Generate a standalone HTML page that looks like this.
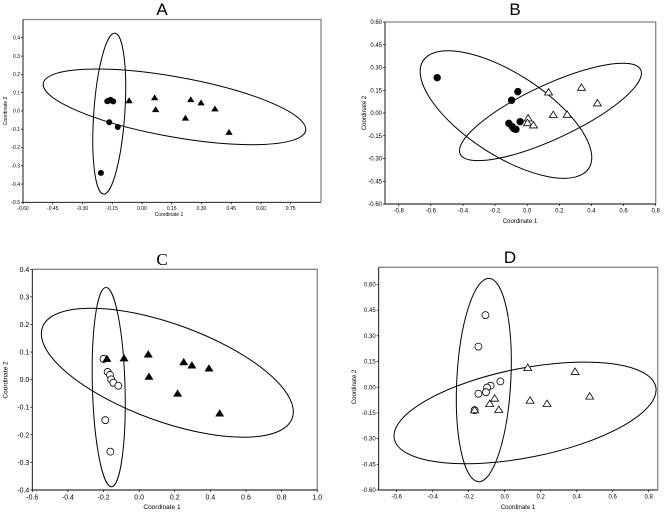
<!DOCTYPE html>
<html><head><meta charset="utf-8"><style>
html,body{margin:0;padding:0;background:#fff;}
svg{display:block;font-family:"Liberation Sans",Arial,sans-serif;}
</style></head><body>
<svg id="fig" width="669" height="514" viewBox="0 0 669 514" xmlns="http://www.w3.org/2000/svg"></svg>
<script>
// ---- Panel A data ----
const aCircX=[-0.175,-0.165,-0.158,-0.145,-0.165,-0.122,-0.207];
const aCircY=[0.053,0.057,0.060,0.052,-0.062,-0.088,-0.339];
const aTriX=[-0.065,0.064,0.069,0.219,0.246,0.298,0.368,0.439];
const aTriY=[0.055,0.071,0.006,-0.040,0.061,0.043,0.010,-0.118];
const aXTicks=[-0.60,-0.45,-0.30,-0.15,0.00,0.15,0.30,0.45,0.60,0.75];
const aYTicks=[-0.5,-0.4,-0.3,-0.2,-0.1,0.0,0.1,0.2,0.3,0.4];
// ---- Panel B data ----
const bCircX=[-0.56,-0.058,-0.097,-0.044,-0.114,-0.093,-0.083,-0.070];
const bCircY=[0.233,0.141,0.084,-0.057,-0.068,-0.090,-0.103,-0.108];
const bTriX=[0.006,0.002,0.039,0.133,0.162,0.249,0.338,0.437];
const bTriY=[-0.035,-0.066,-0.081,0.136,-0.013,-0.011,0.167,0.064];
const bXTicks=[-0.8,-0.6,-0.4,-0.2,0.0,0.2,0.4,0.6,0.8];
const bYTicks=[-0.60,-0.45,-0.30,-0.15,0.00,0.15,0.30,0.45,0.60];
// ---- Panel C data ----
const cCircX=[-0.200,-0.177,-0.164,-0.157,-0.145,-0.117,-0.190,-0.162];
const cCircY=[0.075,0.028,0.017,0.001,-0.011,-0.022,-0.147,-0.261];
const cTriX=[-0.181,-0.085,0.051,0.055,0.250,0.296,0.392,0.216,0.452];
const cTriY=[0.075,0.077,0.091,0.010,0.063,0.051,0.040,-0.051,-0.123];
const cXTicks=[-0.6,-0.4,-0.2,0.0,0.2,0.4,0.6,0.8,1.0];
const cYTicks=[-0.4,-0.3,-0.2,-0.1,0.0,0.1,0.2,0.3,0.4];
// ---- Panel D data ----
const dCircX=[-0.107,-0.146,-0.024,-0.078,-0.098,-0.104,-0.146,-0.167];
const dCircY=[0.421,0.237,0.034,0.009,-0.002,-0.029,-0.038,-0.134];
const dTriX=[-0.167,0.128,0.391,-0.056,-0.083,-0.033,0.141,0.235,0.472];
const dTriY=[-0.134,0.113,0.090,-0.066,-0.097,-0.132,-0.078,-0.097,-0.054];
const dXTicks=[-0.6,-0.4,-0.2,0.0,0.2,0.4,0.6,0.8];
const dYTicks=[-0.60,-0.45,-0.30,-0.15,0.00,0.15,0.30,0.45,0.60];
// ellipse centers (data units)
const aEllCX=[-0.165,0.164], aEllCY=[-0.015,0.022];
const bEllCX=[-0.132,0.145], bEllCY=[-0.010,0.007];
const cEllCX=[-0.171,0.158], cEllCY=[-0.027,0.025];
const dEllCX=[-0.116,0.113], dEllCY=[0.042,-0.150];

const NS="http://www.w3.org/2000/svg";
const svg=document.getElementById('fig');
function mk(tag,attrs,parent){const e=document.createElementNS(NS,tag);for(const k in attrs)e.setAttribute(k,attrs[k]);(parent||svg).appendChild(e);return e;}

const panels=[
 {id:'a',title:'A',tx:162,ty:15,tfont:'"Liberation Sans",sans-serif',
  box:[23,19.5,321,202.3],xd:[-0.60,0.903],yd:[-0.5,0.5],fs:5,xdec:2,ydec:1,
  cx:aCircX,cy:aCircY,tx2:aTriX,ty2:aTriY,xt:aXTicks,yt:aYTicks,
  circFill:'#000',triFill:'#000',r:2.6,tr:2.8,
  ecx:aEllCX,ecy:aEllCY,ell:[[15.5,80.7,4],[133.3,30,10.2]],
  xl:[169,216],yl:[5,111],lfs:5},
 {id:'b',title:'B',tx:515,ty:15,tfont:'"Liberation Sans",sans-serif',
  box:[385,22,655.7,204],xd:[-0.885,0.8],yd:[-0.6,0.6],fs:6,xdec:1,ydec:2,
  cx:bCircX,cy:bCircY,tx2:bTriX,ty2:bTriY,xt:bXTicks,yt:bYTicks,
  circFill:'#000',triFill:'#fff',r:3.3,tr:3.8,
  ecx:bEllCX,ecy:bEllCY,ell:[[98.8,40.9,33],[99.6,27,-25]],
  xl:[520,223],yl:[364,113],lfs:6},
 {id:'c',title:'C',tx:162,ty:265,tfont:'"Liberation Serif",serif',
  box:[32.3,269.3,317.3,490],xd:[-0.6,1.0],yd:[-0.4,0.4],fs:7,xdec:1,ydec:1,
  cx:cCircX,cy:cCircY,tx2:cTriX,ty2:cTriY,xt:cXTicks,yt:cYTicks,
  circFill:'#fff',triFill:'#000',r:3.5,tr:3.6,
  ecx:cEllCX,ecy:cEllCY,ell:[[16.3,99.7,-1.6],[132.9,48.7,20]],
  xl:[162,509],yl:[5,380],lfs:6.5},
 {id:'d',title:'D',tx:510,ty:263,tfont:'"Liberation Sans",sans-serif',
  box:[378.7,267.3,657.7,490],xd:[-0.7,0.85],yd:[-0.6,0.7],fs:6,xdec:1,ydec:2,
  cx:dCircX,cy:dCircY,tx2:dTriX,ty2:dTriY,xt:dXTicks,yt:dYTicks,
  circFill:'#fff',triFill:'#fff',r:3.5,tr:3.8,
  ecx:dEllCX,ecy:dEllCY,ell:[[27,101.8,3],[133.3,44.6,-11.2]],
  xl:[518,509],yl:[354,387],lfs:6}
];

panels.forEach(p=>{
 const [x0,y0,x1,y1]=p.box;
 const X=v=>x0+(v-p.xd[0])/(p.xd[1]-p.xd[0])*(x1-x0);
 const Y=v=>y1-(v-p.yd[0])/(p.yd[1]-p.yd[0])*(y1-y0);
 const g=mk('g',{});
 
 
 const t=mk('text',{x:p.tx,y:p.ty,'text-anchor':'middle','font-size':17,'font-family':p.tfont,fill:'#000'},g);
 t.textContent=p.title;
 
 
 // frame
 const fr=mk('path',{d:`M${x0},${y0}H${x1}V${y1}`,fill:'none',stroke:'#888','stroke-width':1.3},g);
 
 
 const ax=mk('path',{d:`M${x0},${y0}V${y1}H${x1}`,fill:'none',stroke:'#000','stroke-width':0.9},g);
 
 
 // ticks
 p.xt.forEach(v=>{
  const x=X(v);
  mk('line',{x1:x,x2:x,y1:y1,y2:y1+2,stroke:'#000','stroke-width':0.7},g);
  const l=mk('text',{x:x,y:y1+2+p.fs*1.1,'text-anchor':'middle','font-size':p.fs,fill:'#000'},g);
  l.textContent=v.toFixed(p.xdec);
  
  
 });
 p.yt.forEach(v=>{
  const y=Y(v);
  mk('line',{x1:x0-2,x2:x0,y1:y,y2:y,stroke:'#000','stroke-width':0.7},g);
  const l=mk('text',{x:x0-3,y:y+p.fs*0.35,'text-anchor':'end','font-size':p.fs,fill:'#000'},g);
  l.textContent=v.toFixed(p.ydec);
  
  
 });
 const xt=mk('text',{x:p.xl[0],y:p.xl[1],'text-anchor':'middle','font-size':p.lfs,fill:'#000'},g);
 xt.textContent='Coordinate 1';
 
 
 const yt=mk('text',{x:0,y:0,'text-anchor':'middle','font-size':p.lfs,fill:'#000',transform:`translate(${p.yl[0]+p.lfs*0.35},${p.yl[1]}) rotate(-90)`},g);
 yt.textContent='Coordinate 2';
 
 
 // ellipses
 p.ell.forEach((e,i)=>{
  const cx=X(p.ecx[i]),cy=Y(p.ecy[i]);
  const el=mk('ellipse',{cx:0,cy:0,rx:e[0],ry:e[1],fill:'none',stroke:'#000','stroke-width':1,transform:`translate(${cx},${cy}) rotate(${e[2]})`},g);
  
  
 });
 // points
 p.cx.forEach((v,i)=>{
  const c=mk('circle',{cx:X(v),cy:Y(p.cy[i]),r:p.r,fill:p.circFill,stroke:'#000','stroke-width':0.8},g);
  
  
 });
 p.tx2.forEach((v,i)=>{
  const x=X(v),y=Y(p.ty2[i]),s=p.tr;
  const tr=mk('polygon',{points:`${x},${y-s} ${x-s*1.05},${y+s*0.7} ${x+s*1.05},${y+s*0.7}`,fill:p.triFill,stroke:'#000','stroke-width':0.8},g);
  
  
 });
});
</script>
</body></html>
